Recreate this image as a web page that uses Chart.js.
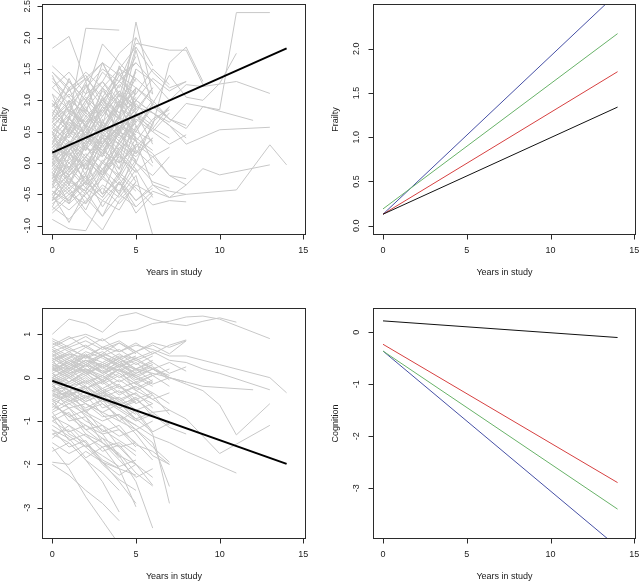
<!DOCTYPE html>
<html>
<head>
<meta charset="utf-8">
<script src="https://cdn.jsdelivr.net/npm/chart.js@4.4.1/dist/chart.umd.min.js"></script>
<style>
  html, body { margin: 0; padding: 0; background: #fff; }
  #page { position: relative; width: 640px; height: 583px; overflow: hidden; }
  .panel { position: absolute; }
</style>
</head>
<body>
<div id="page">
  <canvas id="c1" class="panel" width="320" height="290" style="left:0;top:0"></canvas>
  <canvas id="c2" class="panel" width="320" height="290" style="left:320px;top:0"></canvas>
  <canvas id="c3" class="panel" width="320" height="293" style="left:0;top:290px"></canvas>
  <canvas id="c4" class="panel" width="320" height="293" style="left:320px;top:290px"></canvas>
</div>
<script>
// axes ticks
const yearTicks = [0, 5, 10, 15];
const frailtyTicks = [-1.0, -0.5, 0.0, 0.5, 1.0, 1.5, 2.0, 2.5];
const frailtyFitTicks = [0.0, 0.5, 1.0, 1.5, 2.0];
const cognitionTicks = [-3, -2, -1, 0, 1];
const cognitionFitTicks = [-3, -2, -1, 0];

// fitted lines (values at year 0 and year 14)
const fitYears = [0, 14];
const frailtyMean = [0.165, 1.83];
const cognitionMean = [-0.07, -1.99];
const frailtyBlack = [0.13, 1.34];
const frailtyRed = [0.13, 1.74];
const frailtyGreen = [0.19, 2.17];
const frailtyBlue = [0.13, 2.63];
const cognitionBlack = [0.22, -0.10];
const cognitionRed = [-0.23, -2.89];
const cognitionGreen = [-0.36, -3.40];
const cognitionBlue = [-0.36, -4.13];

// individual trajectories, index = year in study (null = no visit)
const frailtyPeople = [
  [0.05, 0.35, 0.2, 0.6, 0.45, 0.9],
  [-0.3, -0.1, 0.25, 0.1, 0.55],
  [0.45, 0.8, 0.6, 1.15, 0.9, 1.35, 1.1],
  [-0.55, -0.3, -0.45, 0.0, -0.2, 0.3],
  [1.45, 1.2, 1.4, 0.95, 1.5, 1.85],
  [0.2, -0.15, 0.3, 0.5, 0.2, 0.75, 0.55, 0.9],
  [-0.9, -1.05, -1.08, -0.6, -0.75, -0.3],
  [1.83, 2.02, 1.3, 1.6, 1.1],
  [0.6, 0.3, 0.75, 0.5, 1.0, 0.8],
  [-0.2, 0.15, -0.05, 0.4, 0.1],
  [0.0, 0.7, 2.15, null, 2.12],
  [0.3, 0.1, 0.5, 0.9, 0.7, 2.25, 1.1],
  [-0.6, -0.4, -0.75, -0.2, -0.5, -0.1, -0.55],
  [0.9, 1.3, 1.0, 1.45, 1.2, 1.7],
  [-0.1, -0.35, 0.1, -0.15, 0.35, 0.15, 0.6],
  [0.75, 0.5, 0.95, 1.3, 1.0],
  [-0.45, -0.6, -0.2, -0.7, -0.3, -0.6, -0.35, -0.45, -0.5, null, null, -0.43, null, 0.29, -0.03],
  [0.1, 0.45, 0.25, 0.0, 0.5, 0.35, -0.35, -0.55, -0.35, -0.09, -0.19, null, null, -0.03],
  [0.35, 0.6, 0.4, 0.85, 0.55, 1.0, 0.8, 0.6, 0.3, null, 0.53, null, null, 0.57],
  [0.7, 0.95, 1.25, 0.9, 1.4, 1.6, 1.3, 1.0, 1.25, 1.22, null, 1.3, null, 1.11],
  [0.5, 0.25, 0.65, 1.0, 0.8, 1.2, 1.0, 0.7, 0.55, 0.9, null, null, 0.68],
  [-0.05, 0.3, 0.6, 0.45, 0.9, 1.2, 0.95, 1.4, 1.05, 1.0, 1.27, 1.75],
  [0.85, 0.6, 1.0, 0.75, 1.1, 0.9, 0.8, 0.65, 0.95, null, 0.85, 2.4, null, 2.4],
  [-0.25, -0.5, -0.3, -0.55, -0.15, -0.4, -0.67, -0.6, -0.62],
  [0.55, 0.9, 1.2, 1.5, 1.3, 1.91, null, 1.8, 1.8, 1.25],
  [-0.65, -0.45, -0.8, -1.07, -0.6, -0.3],
  [0.15, -0.1, 0.35, 0.15, 0.65, 0.4],
  [1.3, 1.05, 1.35, 1.6, 1.4, 1.2],
  [0.25, 0.55, 0.35, 0.75, 1.1, 0.85, 1.2],
  [-0.35, -0.1, -0.4, 0.05, -0.25, 0.2, -0.05],
  [0.4, 0.15, -0.1, 0.3, 0.6, 0.45],
  [-0.75, -0.5, -0.65, -0.35, -0.55, -0.2, -1.15],
  [1.0, 0.7, 0.45, 0.8, 1.15, 0.9],
  [-0.15, 0.2, 0.5, 0.3, 0.7, 0.5, 0.95],
  [0.65, 0.4, 0.85, 0.6, 0.35, 0.75],
  [-0.4, -0.2, 0.1, -0.25, 0.2, -0.1],
  [1.2, 1.45, 1.1, 1.3, 1.75, 2.0, 1.55],
  [0.0, -0.25, -0.45, -0.1, -0.35, 0.05],
  [0.3, 0.65, 0.45, 0.2, 0.55, 0.95, 0.65, 0.9],
  [-0.5, -0.25, -0.5, -0.2, 0.1, -0.15],
  [0.8, 1.1, 0.85, 1.2, 0.95, 1.45],
  [-0.2, -0.45, -0.15, 0.15, -0.1, 0.4, 0.2],
  [0.5, 0.75, 1.05, 0.8, 1.25, 1.0, 1.35, 1.15, 1.3],
  [-0.3, 0.0, -0.25, 0.2, 0.45, 0.25, 0.55, 0.4],
  [0.1, 0.35, 0.1, 0.45, 0.3, 0.7, 0.5, 0.3, 0.45],
  [1.45, 1.15, 1.35, 1.05, 0.8, 1.1],
  [-0.6, -0.35, -0.55, -0.85, -0.5, -0.7, -0.45, -0.55, -0.5],
  [0.2, 0.5, 0.3, 0.65, 0.95, 1.85, 1.45, 1.2, 1.3],
  [0.0, 0.25, -0.1, 0.3, 0.6, 0.35, 0.15, -0.2, -0.35],
  [0.95, 0.7, 1.1, 1.9, 1.6, 1.3],
  [-0.1, 0.2, 0.4, 0.15, 0.5, 0.8, 0.6, 1.6, 1.85, 1.3],
  [0.35, 0.1, 0.4, 0.2, 0.0, 0.3, 0.1, 0.25],
  [-0.45, -0.65, -0.4, -0.6, -0.3, -0.8, -0.5],
  [0.6, 0.85, 0.65, 1.0, 1.3, 1.1, 1.5, 1.25],
  [-0.05, -0.3, 0.05, -0.2, 0.25, 0.0, -0.3, -0.4],
  [0.25, 0.0, 0.3, 0.6, 0.35, 0.8, 1.2],
  [1.1, 0.85, 0.6, 0.95, 0.7, 1.05],
  [-0.55, -0.75, -0.5, -0.25, -0.45, 0.0, -0.2, 0.1],
  [0.45, 0.2, 0.55, 0.3, 0.75, 1.0, 0.8, 0.6, 0.4],
  [-0.25, 0.05, 0.35, 0.6, 0.4, 0.65],
  [0.7, 1.0, 0.8, 0.55, 0.9, 0.65],
  [0.15, -0.2, 0.0, 0.35, 0.55, 0.85],
  [-0.7, -0.9, -0.6, -0.4, -0.65, -0.35, -0.5],
  [0.9, 1.15, 1.45, 1.2, 1.5, 1.35],
  [0.05, 0.3, 0.05, -0.2, 0.2, 0.5, 0.35],
  [-0.15, -0.4, -0.2, -0.5, -0.25, -0.6, -0.4],
  [0.55, 0.35, 0.1, 0.4, 0.75, 0.5, 0.9, 0.7, 0.6],
  [1.35, 1.05, 0.75, 1.0, 1.3, 1.6],
  [-0.35, -0.6, -0.3, 0.0, 0.3, 0.1, 0.4],
  [0.25, 0.45, 0.7, 1.0, 0.75, 1.5, 1.3],
  [-0.05, 0.2, 0.45, 0.2, 0.0, 0.25],
  [0.8, 0.55, 0.3, 0.65, 0.45, 0.15, 0.4],
  [-0.5, -0.15, 0.15, -0.1, 0.3, 0.05],
  [0.4, 0.7, 0.5, 0.25, 0.6, 0.35, 0.7, 0.85],
  [1.55, 1.3, 1.0, 1.3, 0.9, 1.15],
  [-0.25, -0.05, -0.35, -0.1, 0.15, -0.15, 0.1, -0.2, -0.25],
  [0.15, 0.45, 0.8, 0.55, 0.3, 0.65],
  [0.0, -0.2, 0.1, 0.4, 0.15, 0.55, 0.95, 0.7],
  [-0.8, -0.55, -0.3, -0.55, -0.2, -0.45],
  [0.65, 0.9, 0.6, 0.85, 1.15, 0.8, 0.5, 0.8],
  [0.95, 0.5, 1.25, 0.6, 1.55, 0.85],
  [-0.35, 0.3, -0.2, 0.7, 0.0, 1.2],
  [1.4, 0.8, 1.3, 0.55, 1.0, 0.6],
  [-0.6, 0.1, -0.3, 0.45, -0.1, 0.8, 0.3],
  [0.5, -0.1, 0.6, 0.1, 0.95, 0.4],
  [0.05, 0.75, 0.2, 1.05, 0.45, 1.5],
  [-0.7, -0.2, -0.65, -0.1, -0.5, 0.25],
  [0.3, 1.0, 0.4, 1.2, 0.7, 1.8, 0.9],
  [1.1, 0.45, 0.9, 0.3, 0.75, 0.2],
  [-0.15, -0.65, 0.0, -0.5, 0.15, -0.3],
  [0.75, 1.35, 0.8, 1.6, 1.05, 2.0],
  [-0.4, 0.2, -0.35, 0.3, -0.2, 0.6, 0.0],
  [0.2, -0.35, 0.3, -0.2, 0.55, 0.0, 0.65],
  [-0.5, -0.95, -0.45, -0.85, -0.3, -0.7],
  [0.65, 1.2, 0.55, 1.05, 1.45, 0.9],
  [-0.05, 0.55, 1.0, 0.5, 1.1, 0.65, 1.0],
  [1.2, 0.95, 0.4, 0.9, 0.5, 1.0],
  [-0.25, 0.35, -0.1, 0.5, 0.95, 0.35]
];

const cognitionPeople = [
  [1.0, 1.35, 1.25, 1.05, 1.42, 1.5, 1.35, 1.25, 1.2, 1.3, 1.38, 1.28],
  [0.7, 0.9, 1.0, 0.85, 1.05, 1.1, 1.25, 1.3, 1.4, 1.42, 1.35, null, null, 0.9],
  [0.4, 0.55, 0.45, 0.7, 0.6, 0.75, 0.65, 0.5, 0.5, null, 0.3, null, null, 0.0, -0.35],
  [0.3, 0.2, 0.4, 0.3, 0.5, 0.45, 0.6, 0.4, 0.35, 0.2, 0.1, null, null, -0.28],
  [0.2, 0.35, 0.1, 0.3, 0.15, 0.05, 0.2, 0.0, -0.1, -0.2, null, null, -0.28],
  [-0.1, 0.1, 0.2, 0.05, 0.3, 0.2, 0.1, 0.0, -0.15, -0.3, -0.63, -1.32, null, -0.6],
  [-0.3, -0.2, -0.45, -0.35, -0.6, -0.5, -0.8, -0.75, -0.95, null, -1.75, null, null, -1.1],
  [-0.5, -0.7, -0.6, -0.9, -0.85, -1.1, -1.35, -1.5, -1.7, null, null, -2.2],
  [-0.2, -0.5, -0.9, -1.3, -1.8, -2.4, -3.47],
  [0.0, -0.2, -0.1, -0.4, -0.5, -0.8, -1.3, -2.9],
  [-0.4, -0.35, -0.6, -0.8, -1.0, -1.2, -1.5, -2.51],
  [-0.9, -1.1, -1.5, -1.9, -2.1, -2.98],
  [-1.6, -2.1, -2.75, -3.3, -3.85],
  [-1.3, -1.5, -1.9, -2.4, -3.1],
  [-0.6, -0.9, -1.2, -1.5, -1.8, -2.0, -2.48],
  [0.5, 0.7, 0.45, 0.6, 0.35, 0.5],
  [0.0, 0.2, -0.1, 0.05, -0.25, -0.1, -0.4],
  [-0.3, -0.45, -0.2, -0.5, -0.7, -0.55],
  [0.8, 0.6, 0.75, 0.5, 0.65, 0.4, 0.55],
  [0.25, 0.05, 0.3, 0.15, -0.1, 0.1],
  [-0.6, -0.4, -0.75, -0.6, -0.9, -1.1],
  [0.6, 0.75, 0.95, 0.7, 0.85, 0.6, 0.8, 0.7, 0.85],
  [0.1, 0.3, 0.15, -0.05, 0.2, 0.0, -0.2],
  [-0.1, -0.3, -0.05, -0.35, -0.2, -0.5, -0.35, -0.6],
  [0.35, 0.15, 0.4, 0.25, 0.45, 0.2, 0.35, 0.1, 0.25],
  [-0.45, -0.2, -0.5, -0.3, -0.65, -0.45, -0.9],
  [0.15, 0.4, 0.25, 0.5, 0.3, 0.1, 0.3],
  [0.7, 0.5, 0.3, 0.55, 0.4, 0.6, 0.35],
  [-0.2, 0.0, -0.25, -0.1, -0.4, -0.2],
  [0.45, 0.25, 0.5, 0.35, 0.15, 0.35, 0.05, 0.2],
  [-0.75, -0.5, -0.8, -1.0, -0.85, -1.2, -1.0],
  [0.3, 0.1, -0.15, 0.05, -0.2, -0.4, -0.6],
  [0.9, 0.7, 0.85, 0.65, 0.8, 0.55],
  [-0.05, 0.15, 0.35, 0.1, 0.25, 0.0, 0.2, -0.05],
  [-1.0, -1.25, -1.1, -1.4, -1.6, -1.5, -1.9],
  [0.2, 0.0, 0.2, -0.1, 0.1, -0.15, -0.35],
  [-0.35, -0.55, -0.3, -0.55, -0.45, -0.75, -0.6],
  [0.55, 0.35, 0.6, 0.45, 0.25, 0.4, 0.2, 0.35, 0.15],
  [-1.5, -1.75, -1.55, -1.8, -2.05, -1.9],
  [0.05, -0.15, 0.05, -0.25, -0.05, -0.3, -0.5, -0.75],
  [0.4, 0.6, 0.35, 0.55, 0.8, 0.6, 0.75, 0.55, 0.85],
  [-0.55, -0.35, -0.6, -0.8, -0.6, -0.95, -1.25, -1.05],
  [0.25, 0.45, 0.2, 0.0, 0.2, -0.05, 0.1],
  [-0.25, -0.45, -0.7, -0.5, -0.75, -1.0, -0.85, -1.15, -1.3],
  [0.65, 0.45, 0.7, 0.5, 0.3, 0.45],
  [-1.2, -1.4, -1.85, -1.6, -2.1, -2.25],
  [0.1, -0.1, 0.15, -0.05, 0.2, -0.1, 0.05],
  [-0.15, 0.05, -0.2, -0.45, -0.3, -0.6],
  [0.35, 0.55, 0.3, 0.1, 0.3, 0.05, -0.15, 0.0],
  [-0.8, -0.6, -0.85, -1.1, -1.35, -1.2, -1.6, -1.95],
  [0.5, 0.3, 0.5, 0.25, 0.45, 0.2, 0.4],
  [-1.95, -2.0, -1.7, -1.95, -2.1],
  [0.0, 0.25, 0.05, 0.3, 0.1, -0.15, 0.05, -0.2],
  [-0.4, -0.6, -0.45, -0.25, -0.5, -0.35, -0.7],
  [0.75, 0.95, 0.7, 0.9, 0.6, 0.8, 0.55, 0.75, 0.87],
  [-0.65, -0.85, -1.1, -1.3, -1.2, -1.5],
  [0.2, 0.0, -0.25, -0.05, -0.35, -0.2, -0.5, -0.35],
  [-0.1, -0.3, -0.55, -0.35, -0.6, -0.85],
  [0.45, 0.2, 0.4, 0.15, 0.35, 0.1, 0.25, 0.0, -0.1],
  [-1.4, -1.1, -1.35, -1.6, -1.5, -1.8],
  [0.15, 0.35, 0.1, 0.25, 0.0, 0.2, -0.1],
  [-0.5, -0.3, -0.55, -0.4, -0.7, -0.95, -0.8, -1.1],
  [0.6, 0.4, 0.15, 0.35, 0.55, 0.3, 0.5],
  [-0.2, -0.4, -0.2, -0.45, -0.7, -0.5, -0.8],
  [0.3, 0.1, 0.3, 0.5, 0.25, 0.45, 0.2, 0.05],
  [-0.9, -0.7, -1.0, -1.2, -1.45, -1.7],
  [0.0, -0.2, 0.0, -0.3, -0.55, -0.35],
  [-1.1, -1.35, -1.6, -1.95, -2.25, -2.0, -2.3],
  [0.85, 0.65, 0.5, 0.7, 0.45, 0.6],
  [-0.3, -0.1, 0.1, -0.15, 0.05, -0.25, -0.05],
  [-0.8, -1.3, -1.5, -2.0, -2.35, -2.6],
  [-0.5, -1.0, -0.9, -1.5, -1.75, -2.2, -2.5],
  [-1.2, -1.6, -1.45, -1.95, -2.4, -2.9],
  [-0.3, -0.7, -1.2, -1.1, -1.6, -2.0],
  [0.1, -0.3, -0.2, -0.6, -0.9, -1.3, -1.8, -2.0],
  [-1.7, -1.5, -1.9, -2.2, -2.6],
  [-0.9, -1.45, -1.3, -1.7, -1.55, -2.0],
  [0.4, 0.0, 0.3, -0.1, 0.2, -0.3, -0.1],
  [-0.7, -0.3, -0.8, -0.5, -1.0, -0.75, -1.25],
  [0.55, 0.2, 0.5, 0.1, 0.4, 0.0],
  [-1.0, -0.8, -1.3, -1.5, -1.9, -2.3, -2.1],
  [-0.15, -0.55, -0.4, -0.85, -1.2, -1.6],
  [-2.0, -2.25, -2.6, -2.9, -3.3],
  [0.25, -0.1, 0.15, -0.3, -0.15, -0.6, -0.4, -0.85],
  [-0.6, -0.9, -0.75, -1.25, -1.1, -1.55, -1.7, -2.0],
  [0.0, -0.4, -0.25, -0.7, -0.55, -1.0],
  [-1.3, -1.2, -1.6, -1.4, -1.85],
  [0.65, 0.3, 0.55, 0.2, 0.45, 0.15, 0.3]
];

const FONT = '"Liberation Sans", Arial, sans-serif';

// R-style box, ticks and titles drawn from the chart's own scales
const rAxes = {
    id: 'rAxes',
    afterDraw(chart, args, o) {
        const ctx = chart.ctx;
        const a = chart.chartArea;
        const xs = chart.scales.x;
        const ys = chart.scales.y;
        const L = Math.floor(a.left) + 0.5, R = Math.floor(a.right) + 0.5;
        const T = Math.floor(a.top) + 0.5, B = Math.floor(a.bottom) + 0.5;
        ctx.save();
        ctx.strokeStyle = '#2b2b2b';
        ctx.lineWidth = 1;
        ctx.strokeRect(L, T, R - L, B - T);

        ctx.fillStyle = '#1a1a1a';
        ctx.font = '9px ' + FONT;
        ctx.textAlign = 'center';
        ctx.textBaseline = 'middle';

        // x axis
        ctx.beginPath();
        o.xTicks.forEach(v => {
            const px = Math.round(xs.getPixelForValue(v)) + 0.5;
            ctx.moveTo(px, B);
            ctx.lineTo(px, B + 5);
        });
        ctx.stroke();
        o.xTicks.forEach(v => {
            ctx.fillText(String(v), xs.getPixelForValue(v), B + 16.5);
        });
        ctx.fillText(o.xTitle, (L + R) / 2, B + 38.5);

        // y axis
        ctx.beginPath();
        o.yTicks.forEach(v => {
            const py = Math.round(ys.getPixelForValue(v)) + 0.5;
            ctx.moveTo(L - 5, py);
            ctx.lineTo(L, py);
        });
        ctx.stroke();
        o.yTicks.forEach(v => {
            ctx.save();
            ctx.translate(L - o.yLabelGap, ys.getPixelForValue(v));
            ctx.rotate(-Math.PI / 2);
            ctx.fillText(v.toFixed(o.yDigits), 0, 0);
            ctx.restore();
        });
        ctx.save();
        ctx.translate(L - 37.5, (T + B) / 2);
        ctx.rotate(-Math.PI / 2);
        ctx.fillText(o.yTitle, 0, 0);
        ctx.restore();
        ctx.restore();
    }
};

function toPoints(values, years) {
    return values
        .map((v, i) => ({ x: years ? years[i] : i, y: v }))
        .filter(p => p.y !== null);
}

function line(data, color, width, order) {
    return {
        data: data,
        borderColor: color,
        borderWidth: width,
        pointRadius: 0,
        fill: false,
        tension: 0,
        order: order
    };
}

function makePanel(id, datasets, pad, xr, yr, axes) {
    return new Chart(document.getElementById(id), {
        type: 'line',
        data: { datasets: datasets },
        options: {
            responsive: false,
            animation: false,
            devicePixelRatio: 1,
            layout: { padding: pad },
            plugins: { legend: { display: false }, tooltip: { enabled: false }, rAxes: axes },
            scales: {
                x: { type: 'linear', min: xr[0], max: xr[1], display: false },
                y: { type: 'linear', min: yr[0], max: yr[1], display: false }
            }
        },
        plugins: [rAxes]
    });
}

const GREY = 'rgb(200,200,200)';

// top left: frailty trajectories + mean slope
const tl = [line(toPoints(frailtyMean, fitYears), '#000', 2, 0)];
frailtyPeople.forEach(p => tl.push(line(toPoints(p), GREY, 1, 1)));
makePanel('c1', tl, { left: 42.5, top: 4.5, right: 14.5, bottom: 55.5 },
    [-0.585, 15.13], [-1.141, 2.529],
    { xTicks: yearTicks, yTicks: frailtyTicks, yDigits: 1, xTitle: 'Years in study', yTitle: 'Frailty', yLabelGap: 14.5 });

// top right: frailty by group
makePanel('c2', [
    line(toPoints(frailtyBlack, fitYears), '#111', 1, 0),
    line(toPoints(frailtyRed, fitYears), 'rgb(214,64,64)', 1, 0),
    line(toPoints(frailtyGreen, fitYears), 'rgb(104,178,104)', 1, 0),
    line(toPoints(frailtyBlue, fitYears), 'rgb(70,80,165)', 1, 0)
], { left: 53.5, top: 4.5, right: 4.5, bottom: 55.5 },
    [-0.567, 15.07], [-0.099, 2.499],
    { xTicks: yearTicks, yTicks: frailtyFitTicks, yDigits: 1, xTitle: 'Years in study', yTitle: 'Frailty', yLabelGap: 16.5 });

// bottom left: cognition trajectories + mean slope
const bl = [line(toPoints(cognitionMean, fitYears), '#000', 2, 0)];
cognitionPeople.forEach(p => bl.push(line(toPoints(p), GREY, 1, 1)));
makePanel('c3', bl, { left: 42.5, top: 18.5, right: 14.5, bottom: 44.5 },
    [-0.585, 15.13], [-3.710, 1.595],
    { xTicks: yearTicks, yTicks: cognitionTicks, yDigits: 0, xTitle: 'Years in study', yTitle: 'Cognition', yLabelGap: 14.5 });

// bottom right: cognition by group
makePanel('c4', [
    line(toPoints(cognitionBlack, fitYears), '#111', 1, 0),
    line(toPoints(cognitionRed, fitYears), 'rgb(214,64,64)', 1, 0),
    line(toPoints(cognitionGreen, fitYears), 'rgb(104,178,104)', 1, 0),
    line(toPoints(cognitionBlue, fitYears), 'rgb(70,80,165)', 1, 0)
], { left: 53.5, top: 18.5, right: 4.5, bottom: 44.5 },
    [-0.567, 15.07], [-3.965, 0.458],
    { xTicks: yearTicks, yTicks: cognitionFitTicks, yDigits: 0, xTitle: 'Years in study', yTitle: 'Cognition', yLabelGap: 16.5 });
</script>
</body>
</html>
